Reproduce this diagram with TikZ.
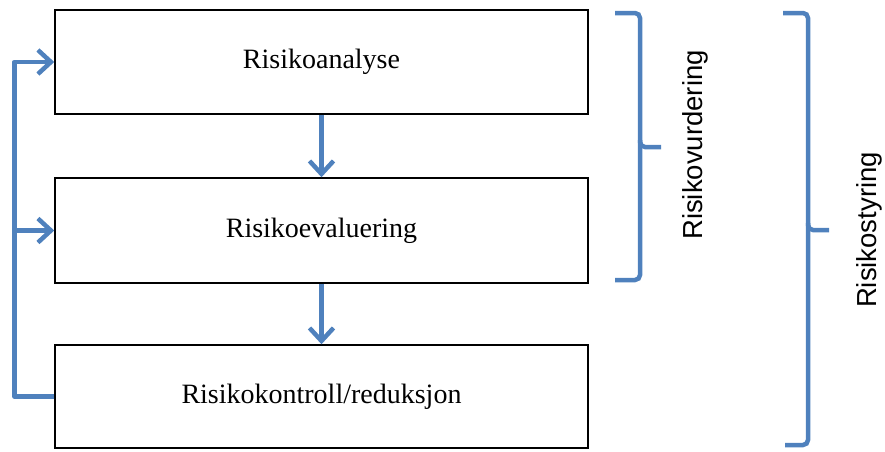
\documentclass[tikz,border=0pt]{standalone}
\usepackage{fontspec}
\setmainfont{Liberation Serif}
\newfontfamily\labelfont{Liberation Sans}
\usetikzlibrary{arrows.meta, positioning}
\definecolor{flowblue}{RGB}{79, 129, 189}

\begin{document}
\begin{tikzpicture}[x=1pt, y=-1pt,
  stepbox/.style={draw, line width=1.5pt, minimum width=533pt, minimum height=104pt, inner sep=0pt, font=\fontsize{28}{32}\selectfont},
  flow/.style={flowblue, line width=4.5pt, line join=round, -{Straight Barb[length=13pt,width=24pt]}},
  brace/.style={flowblue, line width=4.5pt, rounded corners=5pt},
  side/.style={rotate=90, font=\labelfont\fontsize{27.5}{30}\selectfont},
]
\useasboundingbox (0,0) rectangle (885,451);

% Steps
\node[stepbox] (analyse) at (321.5,62) {Risikoanalyse};
\node[stepbox, minimum height=105pt] (evaluering) at (321.5,230.5) {Risikoevaluering};
\node[stepbox, minimum height=103pt] (kontroll) at (321.5,396.5) {Risikokontroll/reduksjon};

% Arrows between steps
\draw[flow] (analyse) -- (evaluering);
\draw[flow] (evaluering) -- (kontroll);

% Feedback loop on the left
\draw[flow] (kontroll.west) -- ++(-40,0) |- (analyse.west);
\draw[flow] ([xshift=-40pt]evaluering.west) -- (evaluering.west);

% Brace: Risikovurdering
\draw[brace] (615,13) -| (640,147) -- (661,147);
\draw[brace] (640,140) |- (615,280);
\node[side] (vurdering) at (695,145) {Risikovurdering};

% Brace: Risikostyring
\draw[brace] (783,13) -| (808,230) -- (829,230);
\draw[brace] (808,223) |- (785,445);
\node[side] (styring) at (869,230) {Risikostyring};
\end{tikzpicture}
\end{document}
